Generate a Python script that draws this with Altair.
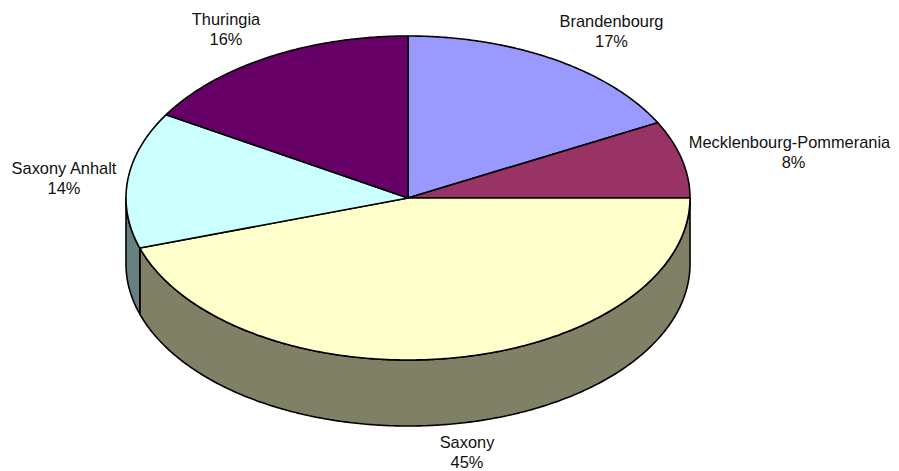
import math
import altair as alt

# Slices clockwise from twelve o'clock
categories = ["Brandenbourg", "Mecklenburg-Pommerania", "Saxony", "Saxony Anhalt", "Thuringia"]
label_names = ["Brandenbourg", "Mecklenbourg-Pommerania", "Saxony", "Saxony Anhalt", "Thuringia"]
values = [17.3, 7.7, 45.0, 13.6, 16.4]
top_colors = ["#9999FF", "#993366", "#FFFFCC", "#CCFFFF", "#660066"]
wall_colors = ["#4D4D80", "#4D1A33", "#808066", "#668080", "#330033"]
label_x = [611.5, 789.5, 467, 64, 226]
pct_x = [611.5, 793.5, 467, 64, 226]
label_y = [22, 143, 443, 169, 20]

CX, CY, RX, RY, DEPTH = 408.0, 198.0, 282.0, 162.0, 66.0


def pt(deg, dy=0.0):
    t = math.radians(deg)
    return [CX + RX * math.sin(t), CY - RY * math.cos(t) + dy]


def arc(a, b, dy=0.0):
    n = max(2, int(abs(b - a) * 2))
    return [pt(a + (b - a) * i / n, dy) for i in range(n + 1)]


def feature(ring, color):
    return {
        "type": "Feature",
        "properties": {"color": color},
        "geometry": {"type": "Polygon", "coordinates": [ring + [ring[0]]]},
    }


features = []
angles = []
a = 0.0
for v in values:
    b = a + v * 3.6
    angles.append((a, b))
    a = b

# Visible side wall: only the front half of the rim, from 90 to 270 degrees
for (a, b), wc in zip(angles, wall_colors):
    s, e = max(a, 90.0), min(b, 270.0)
    if s < e:
        features.append(feature(arc(s, e) + arc(e, s, DEPTH), wc))

# Top face
for (a, b), tc in zip(angles, top_colors):
    features.append(feature([[CX, CY]] + arc(a, b), tc))

proj = dict(type="identity", reflectY=False, scale=1, translate=[-8, -8])

pie = (
    alt.Chart(alt.Data(values=features))
    .mark_geoshape(stroke="black", strokeWidth=1.6, strokeJoin="round")
    .encode(fill=alt.Fill("properties.color:N", scale=None))
    .project(**proj)
)

rows = []
for name, v, x, px, y in zip(label_names, values, label_x, pct_x, label_y):
    rows.append({"x": x, "y": y, "t": name})
    rows.append({"x": px, "y": y + 20, "t": f"{round(v)}%"})

labels = (
    alt.Chart(alt.Data(values=rows))
    .mark_text(font="Liberation Sans", fontSize=16.4, color="#111111", align="center", baseline="middle")
    .encode(longitude="x:Q", latitude="y:Q", text="t:N")
    .project(**proj)
)

chart = (
    alt.layer(pie, labels)
    .properties(width=883, height=462, padding=0, autosize=alt.AutoSizeParams(type="none"), background="white")
    .configure_view(stroke=None)
)
chart.save("out.html", embed_options={"renderer": "svg", "actions": False})
